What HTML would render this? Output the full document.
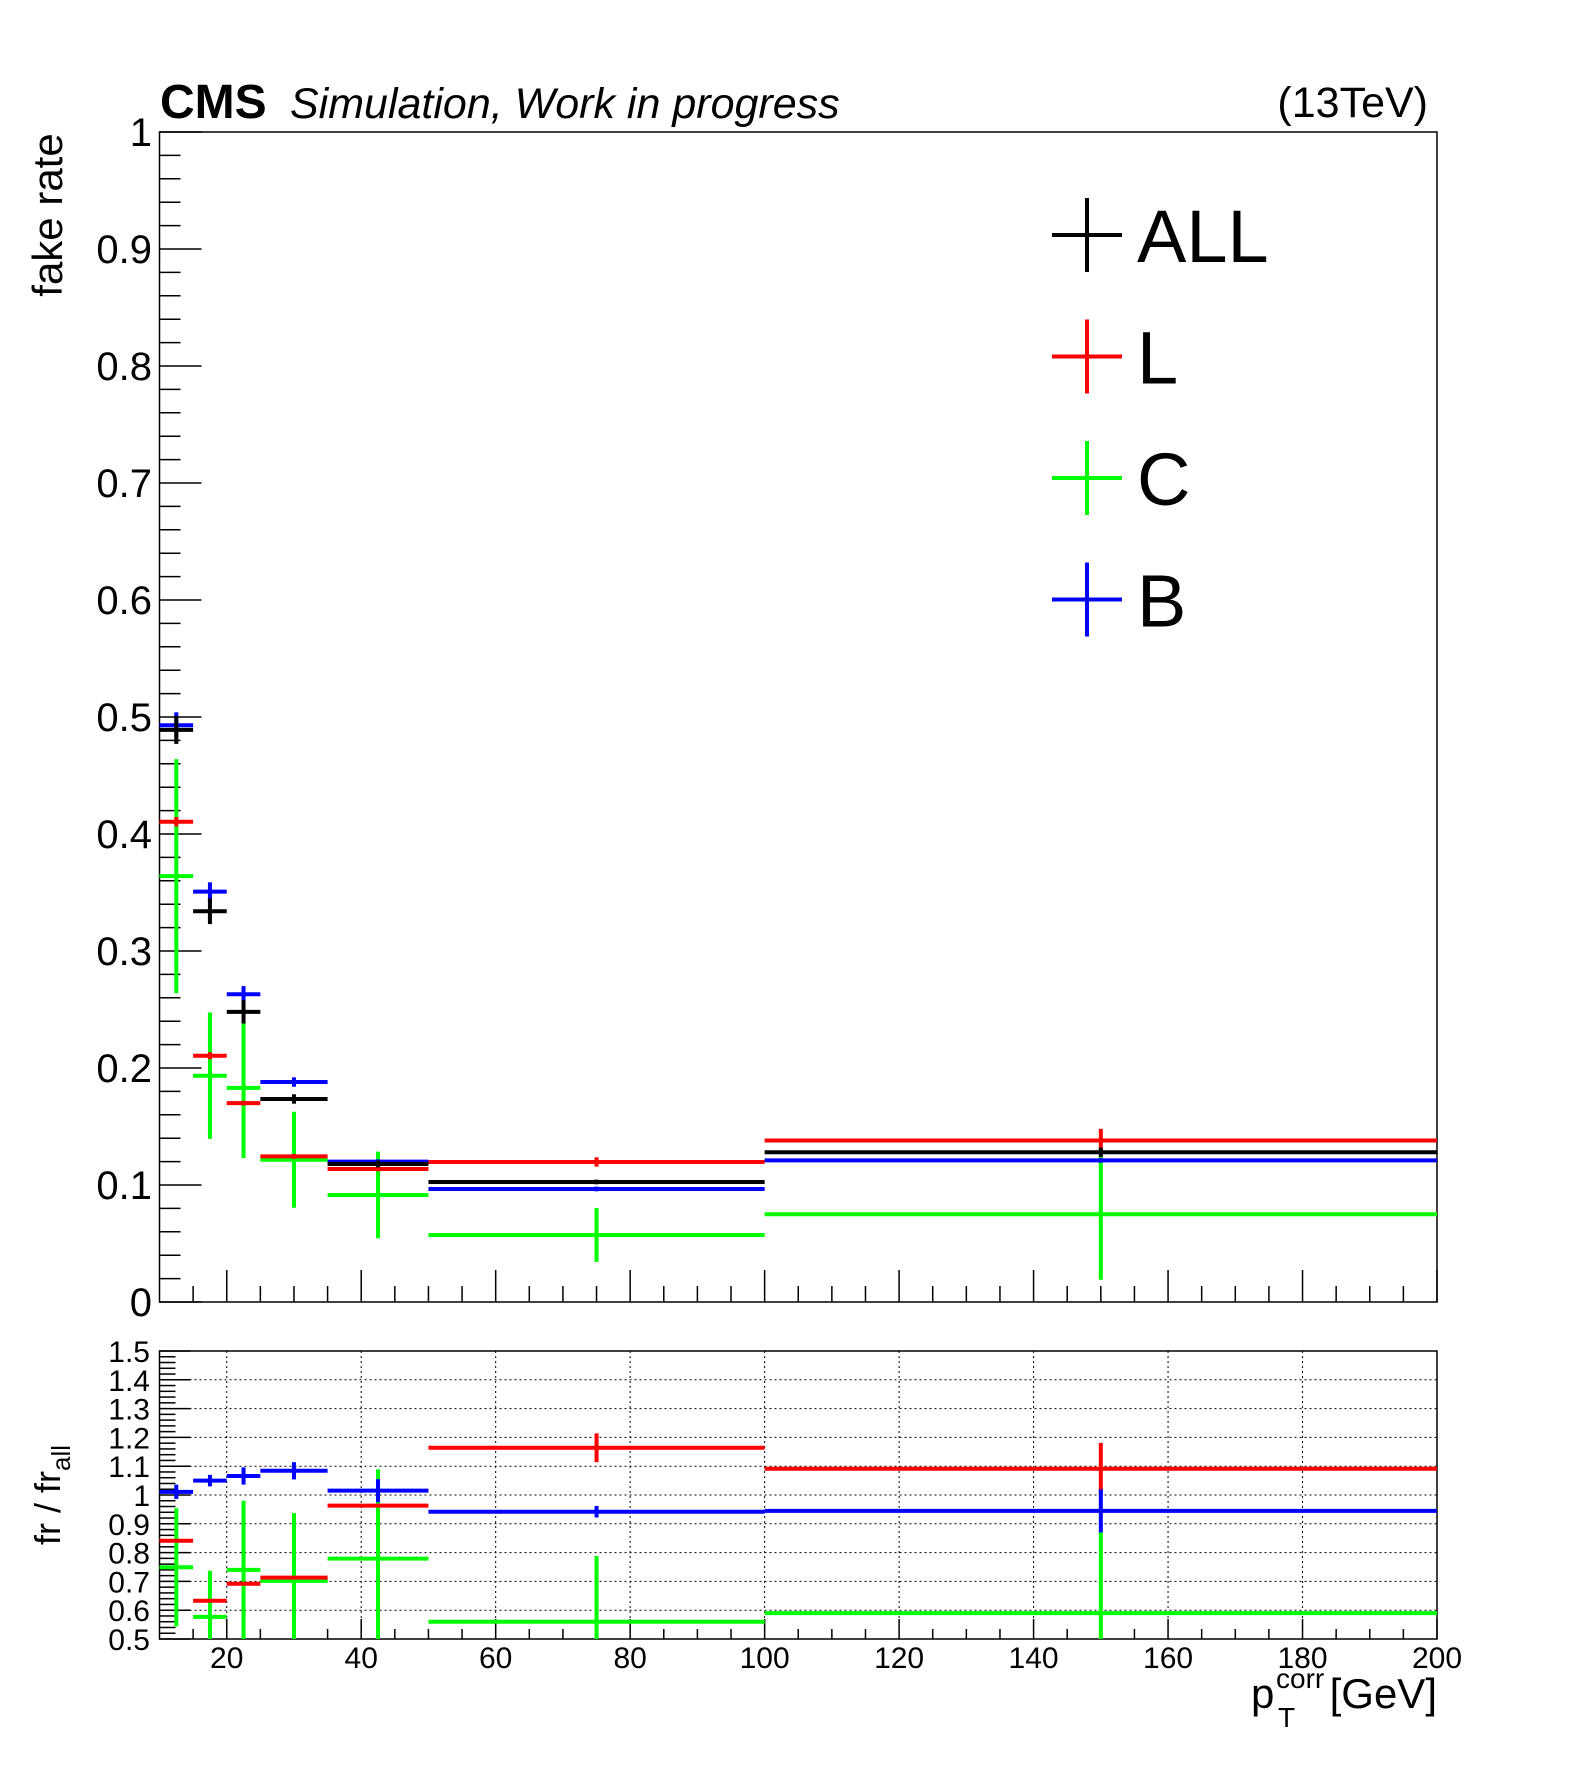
<!DOCTYPE html>
<html><head><meta charset="utf-8"><style>
html,body{margin:0;padding:0;background:#fff;}
svg{display:block;font-family:"Liberation Sans",Arial,sans-serif;}
</style></head><body>
<svg id="chart" width="1596" height="1772" viewBox="0 0 1596 1772" xmlns="http://www.w3.org/2000/svg">
<rect width="1596" height="1772" fill="#fff"/>
<text x="160" y="118" font-size="48" font-weight="bold">CMS</text>
<text x="290" y="118" font-size="43" font-style="italic">Simulation, Work in progress</text>
<text x="1428" y="117" font-size="43" text-anchor="end">(13TeV)</text>
<text transform="translate(62,215) rotate(-90)" font-size="42" text-anchor="middle">fake rate</text>
<text transform="translate(60,1495) rotate(-90)" font-size="36" text-anchor="middle">fr / fr<tspan font-size="26" dy="10">all</tspan></text>
<g>
<text x="1251" y="1708" font-size="42">p</text>
<text x="1276" y="1688" font-size="28">corr</text>
<text x="1278" y="1727" font-size="28">T</text>
<text x="1437" y="1708" font-size="42" text-anchor="end">[GeV]</text>
</g>
<g id="upper"></g>
<g id="lower"></g>
<g id="legend"></g>
</svg>
<script>
const binEdges=[10,15,20,25,35,50,100,200];
const seriesNames=["ALL","L","C","B"];
const seriesColors=["#000000","#ff0000","#00ff00","#0000ff"];
const allVals=[0.489,0.334,0.248,0.1735,0.118,0.1026,0.128];
const allErrs=[0.012,0.011,0.010,0.004,0.003,0.002,0.004];
const lVals=[0.4105,0.2105,0.170,0.1245,0.1137,0.1197,0.138];
const lErrs=[0.004,0.003,0.002,0.002,0.002,0.004,0.010];
const cVals=[0.364,0.1934,0.183,0.1216,0.0915,0.0573,0.075];
const cErrs=[0.1,0.054,0.06,0.041,0.037,0.023,0.056];
const bVals=[0.493,0.3507,0.263,0.188,0.120,0.0966,0.121];
const bErrs=[0.011,0.008,0.007,0.004,0.002,0.002,0.002];
const rLVals=[0.841,0.633,0.692,0.713,0.963,1.164,1.091];
const rLErrs=[0.005,0.005,0.005,0.005,0.005,0.05,0.09];
const rCVals=[0.749,0.577,0.740,0.702,0.779,0.560,0.590];
const rCErrs=[0.205,0.16,0.24,0.235,0.31,0.228,0.28];
const rBVals=[1.011,1.05,1.066,1.084,1.015,0.942,0.945];
const rBErrs=[0.025,0.02,0.03,0.03,0.04,0.02,0.075];
const yTicksUpper=[0,0.1,0.2,0.3,0.4,0.5,0.6,0.7,0.8,0.9,1];
const yTickLabelsUpper=["0","0.1","0.2","0.3","0.4","0.5","0.6","0.7","0.8","0.9","1"];
const yTicksLower=[0.5,0.6,0.7,0.8,0.9,1,1.1,1.2,1.3,1.4,1.5];
const yTickLabelsLower=["0.5","0.6","0.7","0.8","0.9","1","1.1","1.2","1.3","1.4","1.5"];
const xTicks=[20,40,60,80,100,120,140,160,180,200];
const xTickLabels=["20","40","60","80","100","120","140","160","180","200"];

const NS="http://www.w3.org/2000/svg";
const X0=159.5,X1=1437;
const UT=132,UB=1302,LT=1351,LB=1639;
function xs(v){return X0+(v-10)*(X1-X0)/190;}
function yu(v){return UB-(v-0)*(UB-UT)/1;}
function yl(v){return LB-(v-0.5)*(LB-LT)/1;}
function mk(tag,attrs,parent){const e=document.createElementNS(NS,tag);for(const k in attrs)e.setAttribute(k,attrs[k]);parent.appendChild(e);return e;}
const upper=document.getElementById('upper');
const lower=document.getElementById('lower');
const legend=document.getElementById('legend');

let f=mk('rect',{x:X0,y:UT,width:X1-X0,height:UB-UT,fill:'none',stroke:'#000','stroke-width':1.5},upper);


f=mk('rect',{x:X0,y:LT,width:X1-X0,height:LB-LT,fill:'none',stroke:'#000','stroke-width':1.5},lower);



for(let i=0;i<yTicksLower.length;i++){const v=yTicksLower[i];if(v<=0.5||v>=1.5)continue;
 const g=mk('line',{x1:X0,x2:X1,y1:yl(v),y2:yl(v),stroke:'#000','stroke-width':1,'stroke-dasharray':'2,3'},lower);
 
 }
for(let i=0;i<xTicks.length;i++){const v=xTicks[i];if(v>=200)continue;
 const g=mk('line',{x1:xs(v),x2:xs(v),y1:LT,y2:LB,stroke:'#000','stroke-width':1,'stroke-dasharray':'2,3'},lower);
 
 }

for(let v=0;v<=1.0001;v+=0.02){const major=Math.abs(v*10-Math.round(v*10))<1e-6;
 mk('line',{x1:X0,x2:X0+(major?42:21),y1:yu(v),y2:yu(v),stroke:'#000','stroke-width':1.5},upper);}
for(let i=0;i<yTicksUpper.length;i++){const t=mk('text',{x:152,y:yu(yTicksUpper[i])+14,'font-size':40,'text-anchor':'end'},upper);t.textContent=yTickLabelsUpper[i];
 
 }
for(let k=0;k<=50;k++){const v=0.5+k*0.02;const major=k%5===0;
 mk('line',{x1:X0,x2:X0+(major?31:16),y1:yl(v),y2:yl(v),stroke:'#000','stroke-width':1.5},lower);}
for(let i=0;i<yTicksLower.length;i++){const t=mk('text',{x:150,y:yl(yTicksLower[i])+11,'font-size':30,'text-anchor':'end'},lower);t.textContent=yTickLabelsLower[i];
 
 }
for(let v=15;v<=200;v+=5){const major=v%20===0;
 mk('line',{x1:xs(v),x2:xs(v),y1:UB,y2:UB-(major?32:16),stroke:'#000','stroke-width':1.5},upper);
 mk('line',{x1:xs(v),x2:xs(v),y1:LB,y2:LB-(major?20:10),stroke:'#000','stroke-width':1.5},lower);}
for(let i=0;i<xTicks.length;i++){const t=mk('text',{x:xs(xTicks[i]),y:1668,'font-size':30,'text-anchor':'middle'},lower);t.textContent=xTickLabels[i];
 
 }

function drawSeries(parent,vals,errs,color,ys,lo,hi,name){
 for(let i=0;i<vals.length;i++){
  const a=xs(binEdges[i]),b=xs(binEdges[i+1]),c=xs((binEdges[i]+binEdges[i+1])/2);
  const v=vals[i];
  if(v<lo||v>hi)continue;
  const g=mk('g',{},parent);
  
  
  mk('line',{x1:a,x2:b,y1:ys(v),y2:ys(v),stroke:color,'stroke-width':4},g);
  const t=Math.min(hi,v+errs[i]),bt=Math.max(lo,v-errs[i]);
  mk('line',{x1:c,x2:c,y1:ys(t),y2:ys(bt),stroke:color,'stroke-width':4},g);
 }
}
drawSeries(upper,cVals,cErrs,seriesColors[2],yu,0,1,'c');
drawSeries(upper,lVals,lErrs,seriesColors[1],yu,0,1,'l');
drawSeries(upper,bVals,bErrs,seriesColors[3],yu,0,1,'b');
drawSeries(upper,allVals,allErrs,seriesColors[0],yu,0,1,'all');
drawSeries(lower,rCVals,rCErrs,seriesColors[2],yl,0.5,1.5,'ratio-c');
drawSeries(lower,rLVals,rLErrs,seriesColors[1],yl,0.5,1.5,'ratio-l');
drawSeries(lower,rBVals,rBErrs,seriesColors[3],yl,0.5,1.5,'ratio-b');

for(let i=0;i<seriesNames.length;i++){
 const cy=235+i*121.5;
 const g=mk('g',{},legend);
 
 
 mk('line',{x1:1052,x2:1122,y1:cy,y2:cy,stroke:seriesColors[i],'stroke-width':4},g);
 mk('line',{x1:1087,x2:1087,y1:cy-37,y2:cy+37,stroke:seriesColors[i],'stroke-width':4},g);
 const t=mk('text',{x:1137,y:cy+27,'font-size':74},g);t.textContent=seriesNames[i];
}
</script>
</body></html>
